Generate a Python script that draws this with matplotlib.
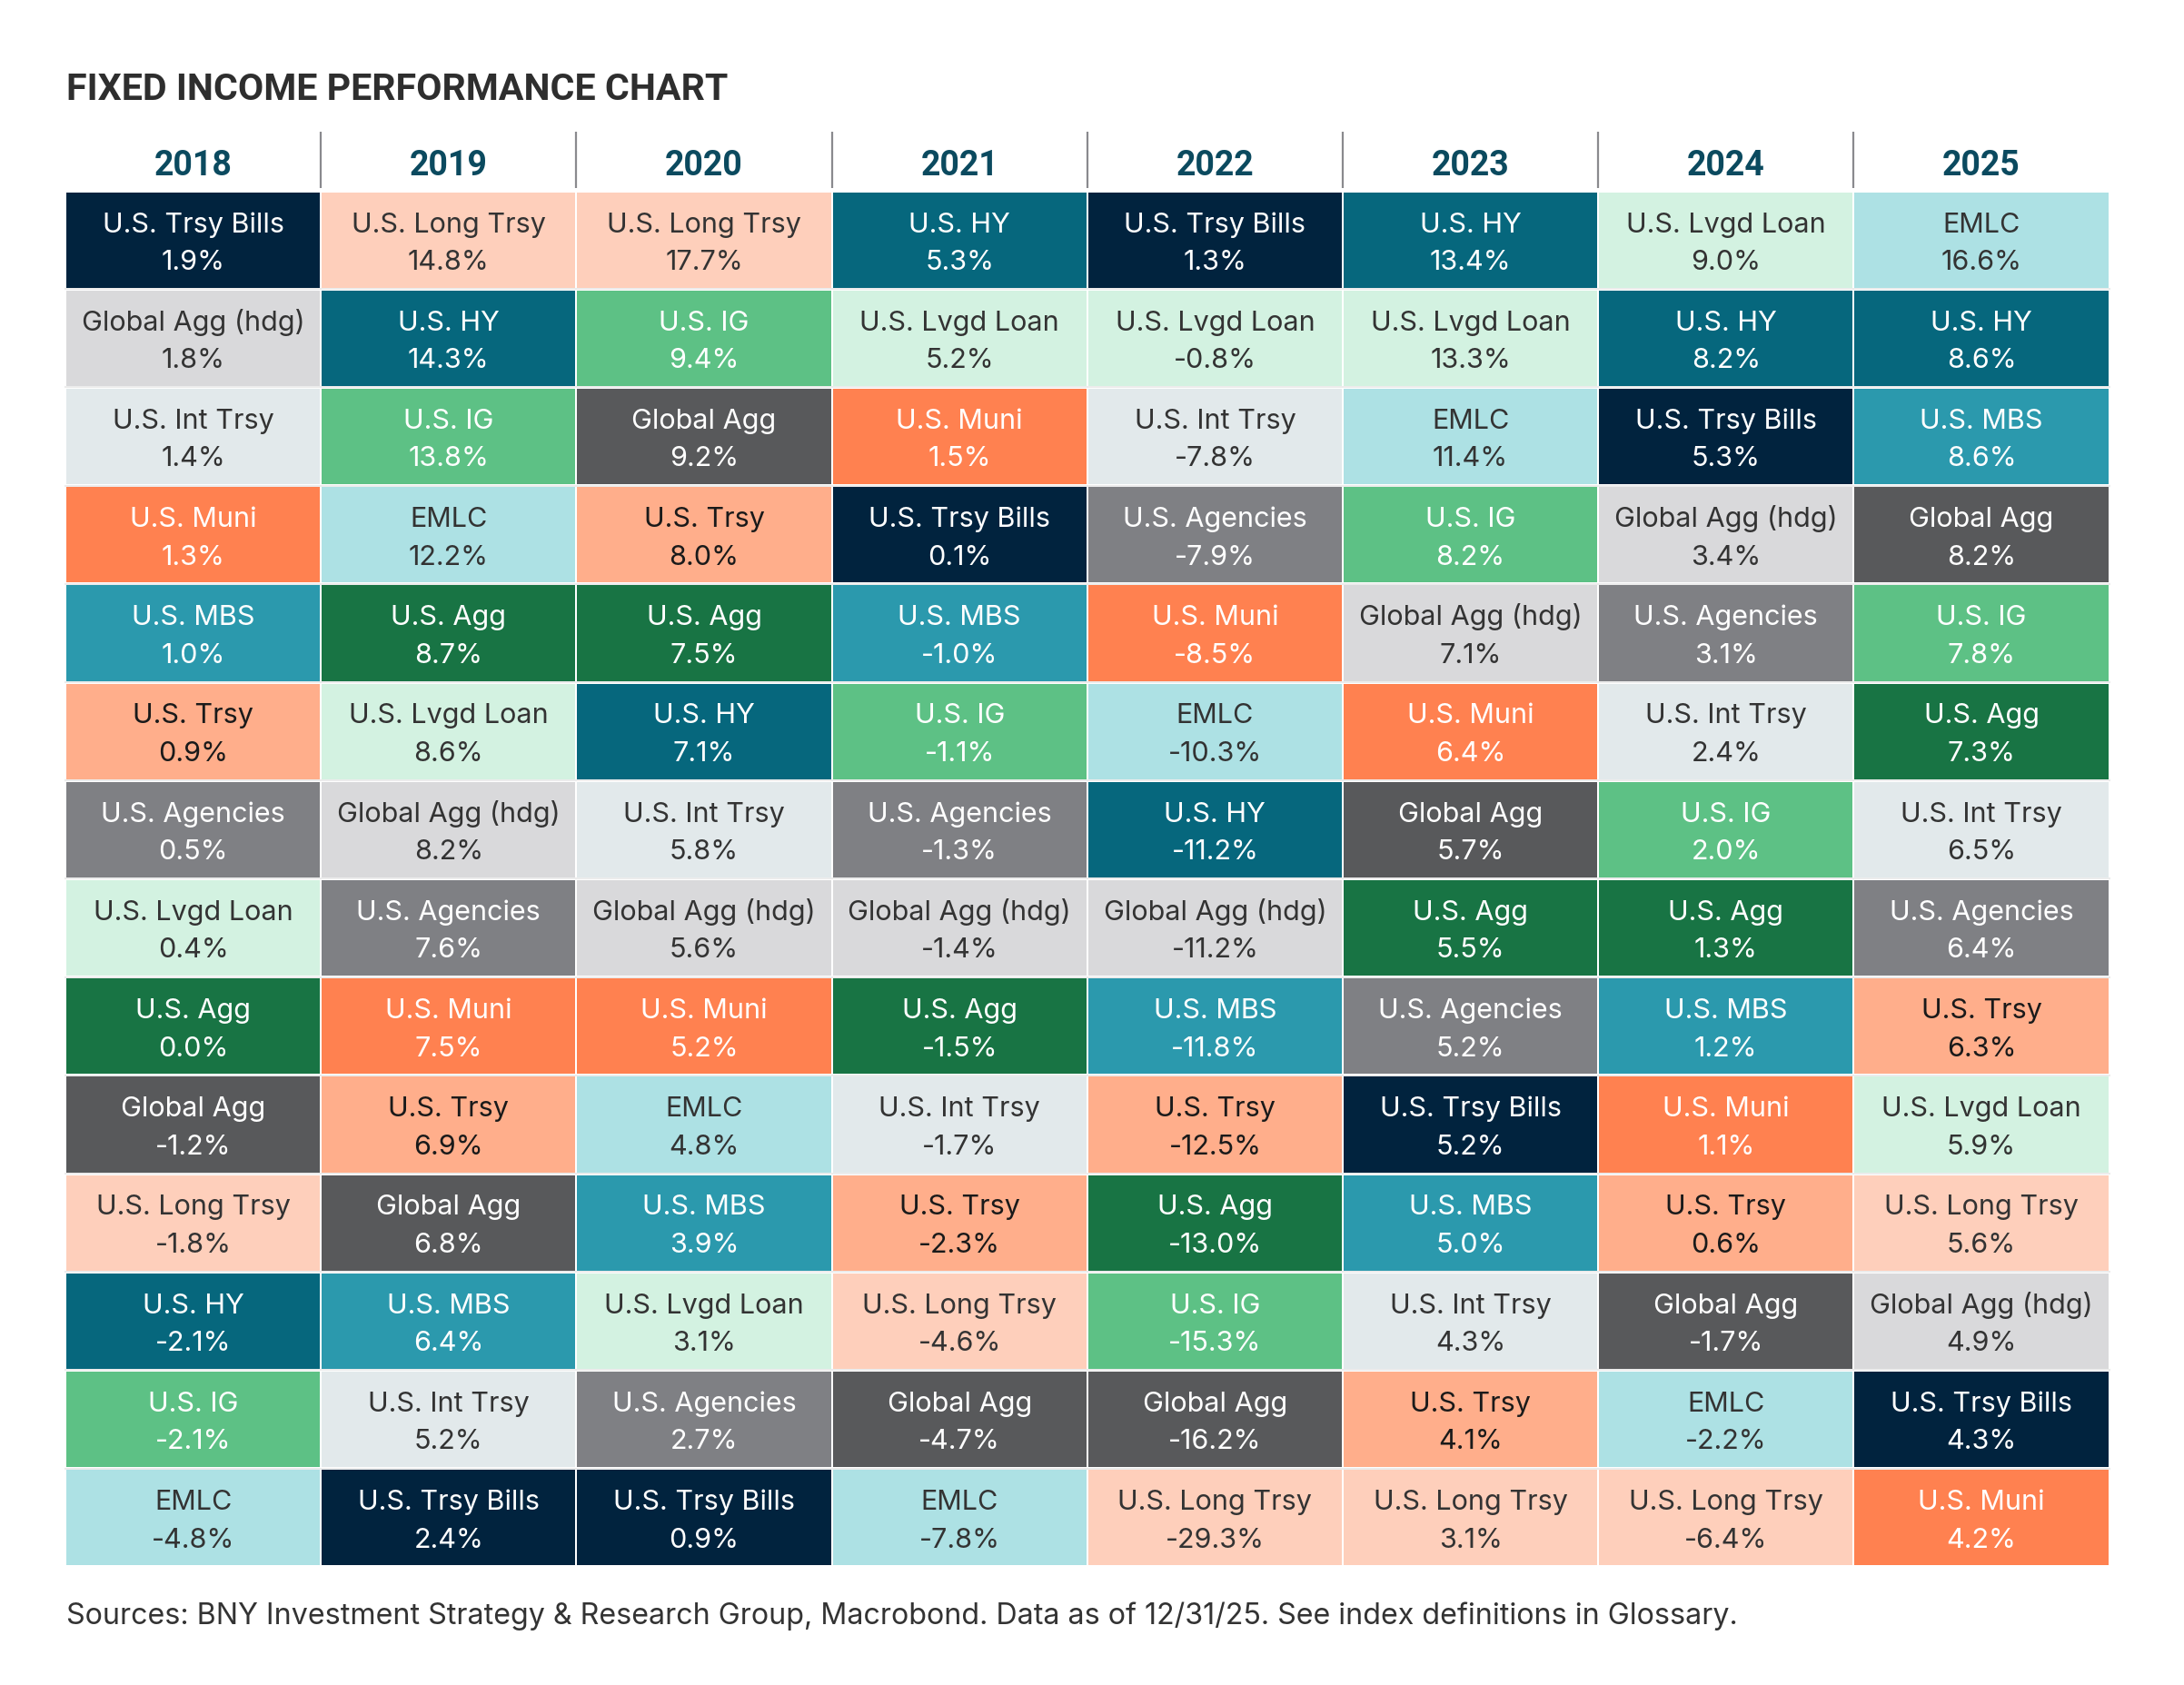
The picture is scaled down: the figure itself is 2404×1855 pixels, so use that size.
import matplotlib
matplotlib.use("Agg")
import matplotlib.pyplot as plt
from matplotlib.patches import Rectangle

plt.rcParams['font.family'] = ['Roboto', 'DejaVu Sans']
BODY_FONT = ['Inter', 'DejaVu Sans']

title = "FIXED INCOME PERFORMANCE CHART"
source = "Sources: BNY Investment Strategy & Research Group, Macrobond. Data as of 12/31/25. See index definitions in Glossary."

years = ["2018", "2019", "2020", "2021", "2022", "2023", "2024", "2025"]

names_2018 = ["U.S. Trsy Bills", "Global Agg (hdg)", "U.S. Int Trsy", "U.S. Muni", "U.S. MBS", "U.S. Trsy",
              "U.S. Agencies", "U.S. Lvgd Loan", "U.S. Agg", "Global Agg", "U.S. Long Trsy", "U.S. HY",
              "U.S. IG", "EMLC"]
values_2018 = [1.9, 1.8, 1.4, 1.3, 1.0, 0.9, 0.5, 0.4, 0.0, -1.2, -1.8, -2.1, -2.1, -4.8]

names_2019 = ["U.S. Long Trsy", "U.S. HY", "U.S. IG", "EMLC", "U.S. Agg", "U.S. Lvgd Loan",
              "Global Agg (hdg)", "U.S. Agencies", "U.S. Muni", "U.S. Trsy", "Global Agg", "U.S. MBS",
              "U.S. Int Trsy", "U.S. Trsy Bills"]
values_2019 = [14.8, 14.3, 13.8, 12.2, 8.7, 8.6, 8.2, 7.6, 7.5, 6.9, 6.8, 6.4, 5.2, 2.4]

names_2020 = ["U.S. Long Trsy", "U.S. IG", "Global Agg", "U.S. Trsy", "U.S. Agg", "U.S. HY",
              "U.S. Int Trsy", "Global Agg (hdg)", "U.S. Muni", "EMLC", "U.S. MBS", "U.S. Lvgd Loan",
              "U.S. Agencies", "U.S. Trsy Bills"]
values_2020 = [17.7, 9.4, 9.2, 8.0, 7.5, 7.1, 5.8, 5.6, 5.2, 4.8, 3.9, 3.1, 2.7, 0.9]

names_2021 = ["U.S. HY", "U.S. Lvgd Loan", "U.S. Muni", "U.S. Trsy Bills", "U.S. MBS", "U.S. IG",
              "U.S. Agencies", "Global Agg (hdg)", "U.S. Agg", "U.S. Int Trsy", "U.S. Trsy",
              "U.S. Long Trsy", "Global Agg", "EMLC"]
values_2021 = [5.3, 5.2, 1.5, 0.1, -1.0, -1.1, -1.3, -1.4, -1.5, -1.7, -2.3, -4.6, -4.7, -7.8]

names_2022 = ["U.S. Trsy Bills", "U.S. Lvgd Loan", "U.S. Int Trsy", "U.S. Agencies", "U.S. Muni", "EMLC",
              "U.S. HY", "Global Agg (hdg)", "U.S. MBS", "U.S. Trsy", "U.S. Agg", "U.S. IG",
              "Global Agg", "U.S. Long Trsy"]
values_2022 = [1.3, -0.8, -7.8, -7.9, -8.5, -10.3, -11.2, -11.2, -11.8, -12.5, -13.0, -15.3, -16.2, -29.3]

names_2023 = ["U.S. HY", "U.S. Lvgd Loan", "EMLC", "U.S. IG", "Global Agg (hdg)", "U.S. Muni",
              "Global Agg", "U.S. Agg", "U.S. Agencies", "U.S. Trsy Bills", "U.S. MBS", "U.S. Int Trsy",
              "U.S. Trsy", "U.S. Long Trsy"]
values_2023 = [13.4, 13.3, 11.4, 8.2, 7.1, 6.4, 5.7, 5.5, 5.2, 5.2, 5.0, 4.3, 4.1, 3.1]

names_2024 = ["U.S. Lvgd Loan", "U.S. HY", "U.S. Trsy Bills", "Global Agg (hdg)", "U.S. Agencies",
              "U.S. Int Trsy", "U.S. IG", "U.S. Agg", "U.S. MBS", "U.S. Muni", "U.S. Trsy", "Global Agg",
              "EMLC", "U.S. Long Trsy"]
values_2024 = [9.0, 8.2, 5.3, 3.4, 3.1, 2.4, 2.0, 1.3, 1.2, 1.1, 0.6, -1.7, -2.2, -6.4]

names_2025 = ["EMLC", "U.S. HY", "U.S. MBS", "Global Agg", "U.S. IG", "U.S. Agg", "U.S. Int Trsy",
              "U.S. Agencies", "U.S. Trsy", "U.S. Lvgd Loan", "U.S. Long Trsy", "Global Agg (hdg)",
              "U.S. Trsy Bills", "U.S. Muni"]
values_2025 = [16.6, 8.6, 8.6, 8.2, 7.8, 7.3, 6.5, 6.4, 6.3, 5.9, 5.6, 4.9, 4.3, 4.2]

all_names = [names_2018, names_2019, names_2020, names_2021, names_2022, names_2023, names_2024, names_2025]
all_values = [values_2018, values_2019, values_2020, values_2021, values_2022, values_2023, values_2024, values_2025]

fill_colors = {
    "U.S. Trsy Bills": "#01233e",
    "U.S. HY": "#06677d",
    "U.S. Lvgd Loan": "#d3f2e1",
    "EMLC": "#ade1e4",
    "Global Agg (hdg)": "#d9d9db",
    "U.S. IG": "#5dc185",
    "U.S. Long Trsy": "#fecfbb",
    "U.S. Int Trsy": "#e2e9eb",
    "Global Agg": "#58595b",
    "U.S. Muni": "#ff8150",
    "U.S. Trsy": "#ffae8b",
    "U.S. Agencies": "#7f8084",
    "U.S. MBS": "#2b99ad",
    "U.S. Agg": "#187444",
}
text_colors = {
    "U.S. Trsy Bills": "white", "U.S. HY": "white", "U.S. IG": "white", "Global Agg": "white",
    "U.S. Muni": "white", "U.S. Agencies": "white", "U.S. MBS": "white", "U.S. Agg": "white",
    "U.S. Lvgd Loan": "#333333", "EMLC": "#333333", "Global Agg (hdg)": "#333333",
    "U.S. Long Trsy": "#333333", "U.S. Int Trsy": "#333333", "U.S. Trsy": "#1a1a1a",
}

W, H = 2404, 1856
fig = plt.figure(figsize=(W / 100, H / 100), dpi=100)
ax = fig.add_axes([0, 0, 1, 1])
ax.set_xlim(0, W)
ax.set_ylim(H, 0)
ax.axis("off")

left, col_w = 72.0, 281.2
top, row_h = 211.0, 108.2
gap_x, gap_y = 2.0, 3.0

ax.text(73, 110, title, fontsize=29.6, fontweight="bold", color="#2e2e2e", va="baseline", ha="left")

for j, yr in enumerate(years):
    cx = left + col_w * (j + 0.5)
    ax.text(cx, 193, yr, fontsize=27, fontweight="bold", color="#0b4a5f", ha="center", va="baseline")
    if j > 0:
        x = left + col_w * j
        ax.plot([x, x], [146, 208], color="#8a8a8e", lw=1.6, solid_capstyle="butt")

for j in range(len(years)):
    for i, (nm, val) in enumerate(zip(all_names[j], all_values[j])):
        x0 = left + col_w * j
        y0 = top + row_h * i
        ax.add_patch(Rectangle((x0 + gap_x / 2, y0 + gap_y / 2), col_w - gap_x, row_h - gap_y,
                               facecolor=fill_colors[nm], edgecolor="none"))
        cx = x0 + col_w / 2
        tc = text_colors[nm]
        ax.text(cx, y0 + 44.5, nm, fontsize=22, color=tc, ha="center", va="baseline", family=BODY_FONT)
        ax.text(cx, y0 + 86, f"{val:.1f}%", fontsize=22, color=tc, ha="center", va="baseline",
                family=BODY_FONT)

# light row separators
for i in range(1, 14):
    y = top + row_h * i
    ax.plot([left, left + col_w * 8], [y, y], color="#ececec", lw=1.5, zorder=0.5)

ax.text(73, 1788, source, fontsize=23.2, color="#333333", ha="left", va="baseline", family=BODY_FONT)

fig.savefig("out.png", dpi=100)
